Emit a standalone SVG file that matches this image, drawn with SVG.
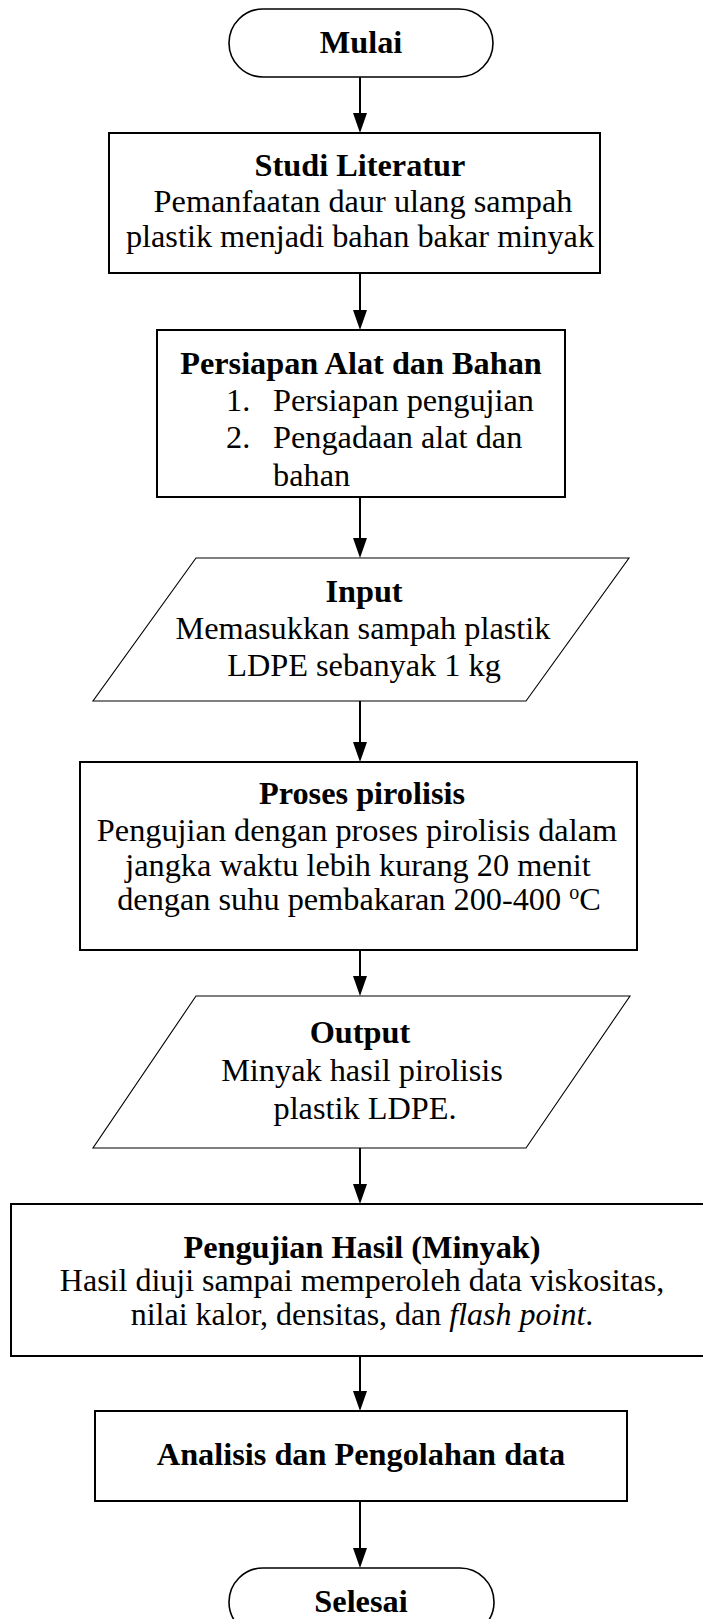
<svg xmlns="http://www.w3.org/2000/svg" width="703" height="1619" viewBox="0 0 703 1619">
<defs>
<marker id="ah" markerUnits="userSpaceOnUse" markerWidth="20" markerHeight="14" viewBox="0 0 20 14" refX="10" refY="7" orient="auto">
<path d="M0,0 L20,7 L0,14 z" fill="#000"/>
</marker>
<style>
text{font-family:"Liberation Serif","Times New Roman",serif;font-size:32.3px;fill:#000;text-anchor:middle}
.b{font-weight:bold}
.s{text-anchor:start}
.p{font-size:32px}
.box{fill:#fff;stroke:#000;stroke-width:2}
.term{fill:#fff;stroke:#000;stroke-width:1.6}
.para{fill:#fff;stroke:#000;stroke-width:1.1}
.conn line{stroke:#000;stroke-width:2;marker-end:url(#ah)}
</style>
</defs>
<rect width="703" height="1619" fill="#fff"/>
<g class="conn" id="connectors">
<line x1="360" y1="77" x2="360" y2="123"/>
<line x1="360" y1="273" x2="360" y2="320"/>
<line x1="360" y1="497" x2="360" y2="548"/>
<line x1="360" y1="701" x2="360" y2="752"/>
<line x1="360" y1="950" x2="360" y2="986"/>
<line x1="360" y1="1148" x2="360" y2="1194"/>
<line x1="360" y1="1356" x2="360" y2="1401"/>
<line x1="360" y1="1501" x2="360" y2="1558"/>
</g>
<g id="mulai">
<rect class="term" x="229" y="9" width="264" height="68" rx="34" ry="34"/>
<text class="b" x="361" y="53">Mulai</text>
</g>
<g id="studi">
<rect class="box" x="109" y="133" width="491" height="140"/>
<text class="b" x="360" y="176">Studi Literatur</text>
<text x="363" y="212">Pemanfaatan daur ulang sampah</text>
<text x="360" y="247">plastik menjadi bahan bakar minyak</text>
</g>
<g id="persiapan">
<rect class="box" x="157" y="330" width="408" height="167"/>
<text class="b" x="361" y="374">Persiapan Alat dan Bahan</text>
<text class="s" x="226" y="411">1.</text>
<text class="s" x="273" y="411">Persiapan pengujian</text>
<text class="s" x="226" y="448">2.</text>
<text class="s" x="273" y="448">Pengadaan alat dan</text>
<text class="s" x="273" y="486">bahan</text>
</g>
<g id="input">
<polygon class="para" points="196,558 629,558 526,701 93,701"/>
<text class="b" x="364" y="602">Input</text>
<text x="363" y="639">Memasukkan sampah plastik</text>
<text x="364" y="676">LDPE sebanyak 1 kg</text>
</g>
<g id="proses">
<rect class="box" x="80" y="762" width="557" height="188"/>
<text class="b" x="362" y="804">Proses pirolisis</text>
<text x="357" y="841">Pengujian dengan proses pirolisis dalam</text>
<text x="358" y="876">jangka waktu lebih kurang 20 menit</text>
<text x="359" y="910">dengan suhu pembakaran 200-400 <tspan font-size="20" dy="-11">o</tspan><tspan dy="11">C</tspan></text>
</g>
<g id="output">
<polygon class="para" points="196,996 630,996 526,1148 93,1148"/>
<text class="b" x="360" y="1043">Output</text>
<text x="362" y="1081">Minyak hasil pirolisis</text>
<text x="365" y="1119">plastik LDPE.</text>
</g>
<g id="pengujian">
<rect class="box" x="11" y="1204" width="700" height="152"/>
<text class="b" x="362" y="1258">Pengujian Hasil (Minyak)</text>
<text class="p" x="362" y="1291">Hasil diuji sampai memperoleh data viskositas,</text>
<text class="p" x="362" y="1325">nilai kalor, densitas, dan <tspan font-style="italic">flash point</tspan>.</text>
</g>
<g id="analisis">
<rect class="box" x="95" y="1411" width="532" height="90"/>
<text class="b" x="361" y="1465">Analisis dan Pengolahan data</text>
</g>
<g id="selesai">
<rect class="term" x="229" y="1568" width="265" height="68" rx="34" ry="34"/>
<text class="b" x="361" y="1612">Selesai</text>
</g>
</svg>
